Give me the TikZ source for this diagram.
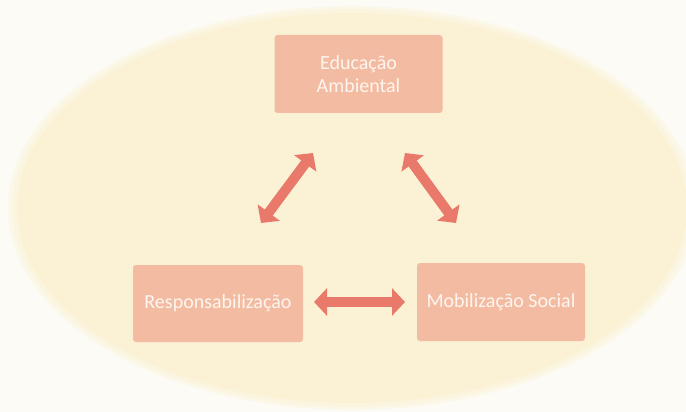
\documentclass[tikz,border=0pt]{standalone}
\usepackage{fontspec}
\setmainfont{Carlito}
\usetikzlibrary{arrows.meta}
\definecolor{bgc}{HTML}{FCFBF6}
\definecolor{ellc}{HTML}{FBF2D5}
\definecolor{ellc1}{HTML}{FBF5E0}
\definecolor{ellc2}{HTML}{FBF8EA}
\definecolor{boxc}{HTML}{F3BCA2}
\definecolor{txtc}{HTML}{FEF5EF}
\definecolor{arrc}{HTML}{E97A6B}
\tikzset{
  box/.style={draw=none, fill=boxc, rounded corners=3pt, text=txtc, font=\fontsize{20}{23}\selectfont, align=center, inner sep=0pt},
  dblarrow/.style={draw=arrc, line width=10pt, {Triangle[width=27pt,length=13pt]}-{Triangle[width=27pt,length=13pt]}}
}
\begin{document}
\begin{tikzpicture}[x=1pt,y=-1pt]
\useasboundingbox (0,0) rectangle (686,412);
\fill[bgc] (0,0) rectangle (686,412);
\fill[ellc2] (352,208) ellipse [x radius=344, y radius=202];
\fill[ellc1] (352,208) ellipse [x radius=340, y radius=199];
\fill[ellc] (352,208) ellipse [x radius=335, y radius=195];
\node[box, minimum width=168pt, minimum height=78pt] (edu) at (358.5,74) {Educação\\Ambiental};
\node[box, minimum width=170pt, minimum height=77pt] (resp) at (218,303.5) {Responsabilização};
\node[box, minimum width=168pt, minimum height=78pt] (mob) at (501,302) {Mobilização Social};
\coordinate (a1s) at (313,153);
\coordinate (a1e) at (261,223);
\coordinate (a2s) at (405,153);
\coordinate (a2e) at (456,223);
\coordinate (a3s) at (314,302);
\coordinate (a3e) at (405,302);
\draw[dblarrow] (a1s) -- (a1e);
\draw[dblarrow] (a2s) -- (a2e);
\draw[dblarrow] (a3s) -- (a3e);
\end{tikzpicture}
\end{document}
